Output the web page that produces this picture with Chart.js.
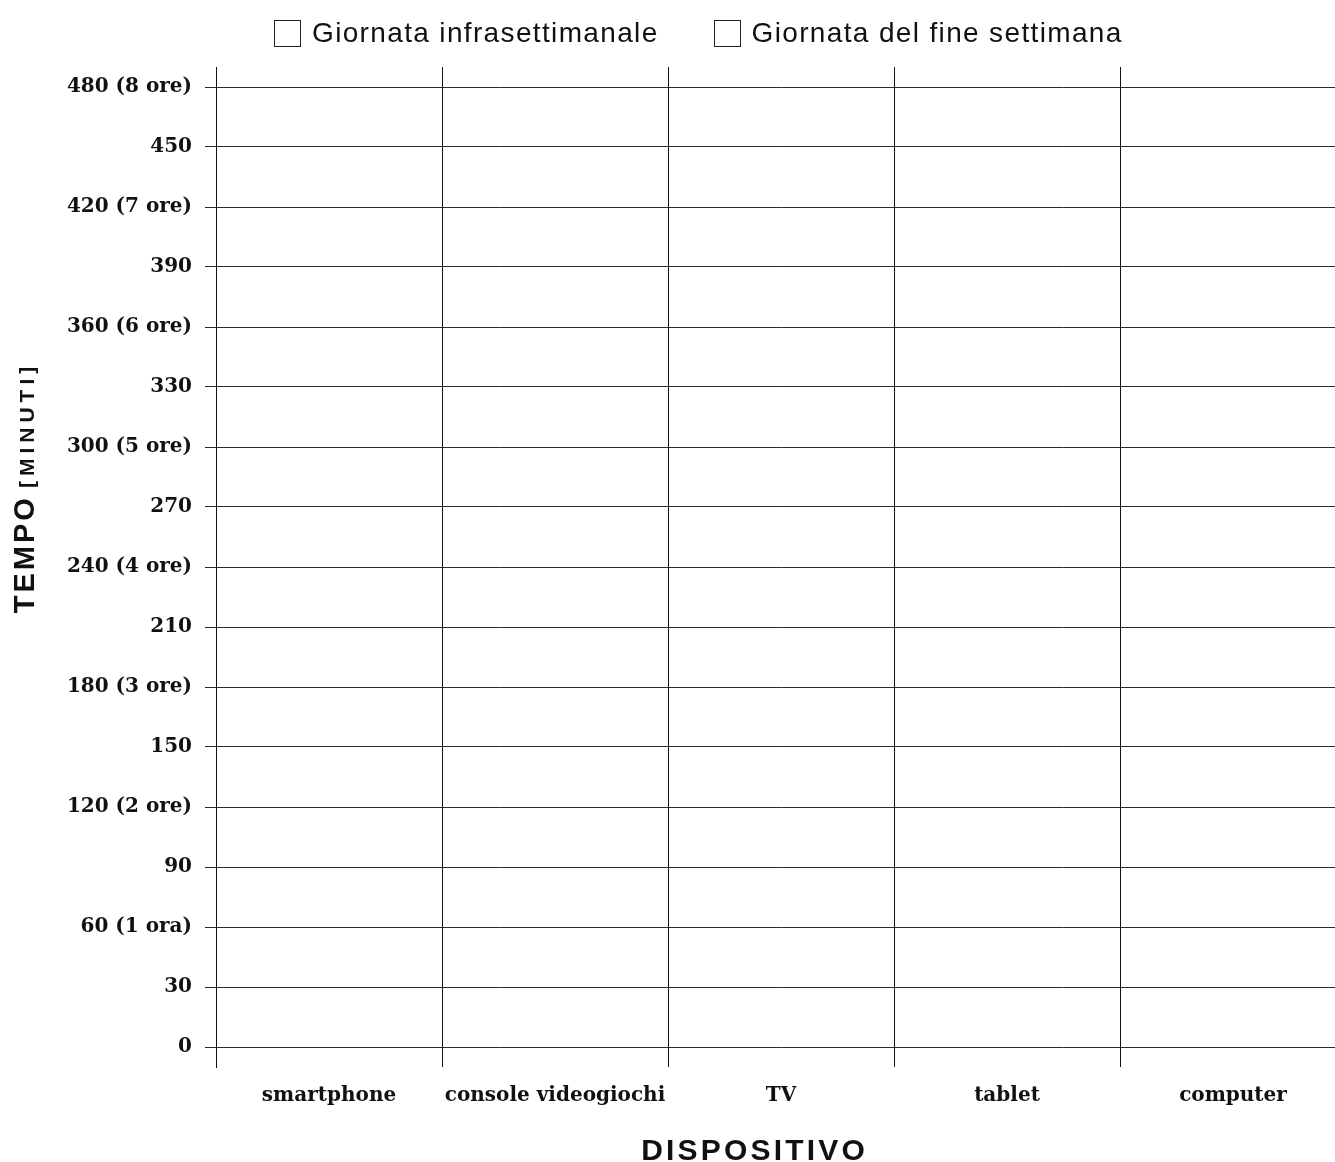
<!DOCTYPE html>
<html>
<head>
<meta charset="utf-8">
<script src="https://cdn.jsdelivr.net/npm/chart.js@4/dist/chart.umd.min.js"></script>
<style>
  html, body { margin: 0; padding: 0; background: #fff; overflow: hidden; }
  .wrap { position: relative; width: 1350px; height: 1162px; }
  #legend { position: absolute; top: 17px; left: 274px; display: flex; gap: 55px;
    font-family: 'Liberation Sans', Arial, sans-serif; font-size: 28px; letter-spacing: 1.35px; color: #111; }
  #legend .item { display: flex; align-items: center; }
  #legend .box { width: 25px; height: 25px; border: 1.5px solid #222; background: #fff; margin-right: 11px; }
</style>
</head>
<body>
<div class="wrap">
  <canvas id="chart" width="1350" height="1162"></canvas>
  <div id="legend"></div>
</div>
<script>
// categories and values (template chart: nothing filled in yet)
const devices = ['smartphone', 'console videogiochi', 'TV', 'tablet', 'computer'];
const weekdayMinutes = [null, null, null, null, null];
const weekendMinutes = [null, null, null, null, null];
const seriesLabels = ['Giornata infrasettimanale', 'Giornata del fine settimana'];

const minuteTicks = [0, 30, 60, 90, 120, 150, 180, 210, 240, 270, 300, 330, 360, 390, 420, 450, 480];
const minuteTickLabels = ['0', '30', '60 (1 ora)', '90', '120 (2 ore)', '150', '180 (3 ore)', '210',
  '240 (4 ore)', '270', '300 (5 ore)', '330', '360 (6 ore)', '390', '420 (7 ore)', '450', '480 (8 ore)'];

const tickFont = { family: "'DejaVu Serif', serif", size: 20, weight: 'bold' };

// draw text with letter spacing
function drawSpaced(ctx, text, x, y, spacing) {
  let cx = x;
  for (const ch of text) {
    ctx.fillText(ch, cx, y);
    cx += ctx.measureText(ch).width + spacing;
  }
  return cx - spacing;
}
function spacedWidth(ctx, text, spacing) {
  let w = 0;
  for (const ch of text) w += ctx.measureText(ch).width + spacing;
  return w - spacing;
}

const axisTitles = {
  id: 'axisTitles',
  afterDraw(chart) {
    const ctx = chart.ctx;
    const area = chart.chartArea;
    const bigFont = "bold 29px 'Liberation Sans', Arial, sans-serif";
    const smallFont = "bold 21px 'Liberation Sans', Arial, sans-serif";
    ctx.save();
    ctx.fillStyle = '#111';
    ctx.textBaseline = 'alphabetic';

    // y title: TEMPO [MINUTI]
    ctx.translate(31, (area.top + area.bottom) / 2 - 77);
    ctx.rotate(-Math.PI / 2);
    ctx.font = bigFont;
    const w1 = spacedWidth(ctx, 'TEMPO', 3);
    ctx.font = smallFont;
    const w2 = spacedWidth(ctx, '[MINUTI]', 5);
    const gap = 10;
    const x0 = -(w1 + gap + w2) / 2;
    ctx.font = bigFont;
    drawSpaced(ctx, 'TEMPO', x0, 3, 3);
    ctx.font = smallFont;
    drawSpaced(ctx, '[MINUTI]', x0 + w1 + gap, 3, 5);
    ctx.restore();

    // x title: DISPOSITIVO
    ctx.save();
    ctx.fillStyle = '#111';
    ctx.textBaseline = 'alphabetic';
    ctx.font = "bold 30px 'Liberation Sans', Arial, sans-serif";
    const w3 = spacedWidth(ctx, 'DISPOSITIVO', 3.2);
    drawSpaced(ctx, 'DISPOSITIVO', 753 - w3 / 2, 1160, 3.2);
    ctx.restore();
  }
};

const htmlLegend = {
  id: 'htmlLegend',
  afterUpdate(chart) {
    const el = document.getElementById('legend');
    el.innerHTML = '';
    chart.data.datasets.forEach(ds => {
      const item = document.createElement('div');
      item.className = 'item';
      const box = document.createElement('span');
      box.className = 'box';
      const txt = document.createElement('span');
      txt.textContent = ds.label;
      item.appendChild(box);
      item.appendChild(txt);
      el.appendChild(item);
    });
  }
};

const chart = new Chart(document.getElementById('chart'), {
  type: 'bar',
  data: {
    labels: devices,
    datasets: [
      { label: seriesLabels[0], data: weekdayMinutes, backgroundColor: '#fff', borderColor: '#222', borderWidth: 1.5 },
      { label: seriesLabels[1], data: weekendMinutes, backgroundColor: '#fff', borderColor: '#222', borderWidth: 1.5 }
    ]
  },
  options: {
    responsive: false,
    animation: false,
    layout: { padding: { top: 67, left: 60, right: 4, bottom: 0 } },
    plugins: {
      legend: { display: false },
      tooltip: { enabled: false }
    },
    scales: {
      x: {
        grid: { offset: true, color: '#111', lineWidth: 1, drawTicks: false },
        border: { display: false },
        ticks: { color: '#111', font: tickFont, padding: 17, maxRotation: 0, autoSkip: false },
        afterFit: (scale) => { scale.height = 95; }
      },
      y: {
        min: -10,
        max: 490,
        afterBuildTicks: (scale) => { scale.ticks = minuteTicks.map(v => ({ value: v })); },
        grid: { color: '#2a2a2a', lineWidth: 1, tickLength: 11, tickColor: '#2a2a2a' },
        border: { display: true, color: '#111', width: 1 },
        ticks: {
          color: '#111',
          font: tickFont,
          padding: 13,
          callback: (value) => minuteTickLabels[minuteTicks.indexOf(value)]
        },
        afterFit: (scale) => { scale.width = 156; }
      }
    }
  },
  plugins: [axisTitles, htmlLegend]
});
</script>
</body>
</html>
